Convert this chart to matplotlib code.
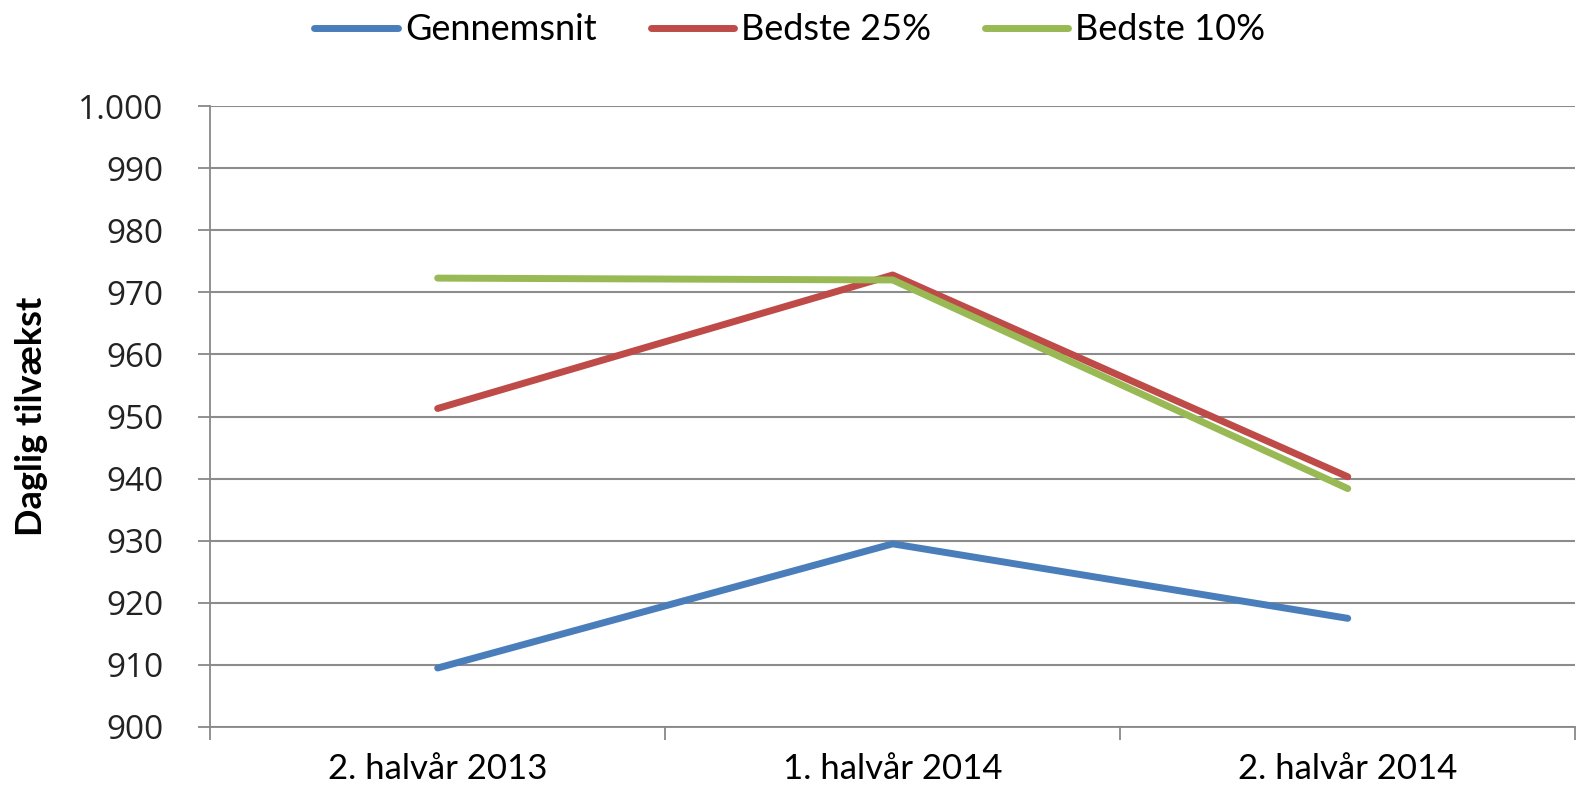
import matplotlib

matplotlib.use("Agg")
import matplotlib.pyplot as plt
from matplotlib.ticker import FuncFormatter, FixedLocator

categories = ["2. halvår 2013", "1. halvår 2014", "2. halvår 2014"]
gennemsnit = [909.5, 929.5, 917.5]
bedste_25 = [951.3, 972.8, 940.3]
bedste_10 = [972.3, 972.0, 938.4]

plt.rcParams["font.family"] = ["Lato", "DejaVu Sans"]

fig = plt.figure(figsize=(15.8, 7.98), dpi=100)
ax = fig.add_axes([0.133, 0.089, 0.864, 0.778])

x = range(len(categories))
ax.plot(x, gennemsnit, color="#4a7ebb", lw=5, solid_capstyle="round", label="Gennemsnit")
ax.plot(x, bedste_25, color="#be4b48", lw=5, solid_capstyle="round", label="Bedste 25%")
ax.plot(x, bedste_10, color="#98b954", lw=5, solid_capstyle="round", label="Bedste 10%")

ax.set_xlim(-0.5, len(categories) - 0.5)
ax.set_ylim(900, 1000)
ax.set_yticks(range(900, 1001, 10))
ax.yaxis.set_major_formatter(FuncFormatter(lambda v, p: f"{int(v):,}".replace(",", ".")))
ax.set_xticks(list(x))
ax.set_xticklabels(categories, fontsize=25)
ax.xaxis.set_minor_locator(FixedLocator([i - 0.5 for i in range(len(categories) + 1)]))
ax.tick_params(axis="x", which="major", length=0, pad=19)
ax.tick_params(axis="x", which="minor", length=9, color="#888888", width=1.3)
ax.tick_params(axis="y", length=8.5, color="#888888", width=1.3, pad=25)
for lab in ax.get_yticklabels():
    lab.set_color("#222222")
    lab.set_family("Open Sans")
    lab.set_fontsize(24)

ax.grid(axis="y", color="#8c8c8c", lw=1.5)
ax.set_axisbelow(True)
for side in ["top", "right"]:
    ax.spines[side].set_visible(False)
for side in ["left", "bottom"]:
    ax.spines[side].set_color("#888888")
    ax.spines[side].set_linewidth(1.3)

ax.set_ylabel("Daglig tilvækst", fontsize=26, fontweight="bold")
ax.yaxis.set_label_coords(-0.119, 0.5)

fig.legend(loc="upper center", bbox_to_anchor=(0.5, 1.024), ncol=3, frameon=False,
           fontsize=26, handlelength=2.3, handletextpad=0.2, columnspacing=1.5)

fig.savefig("out.png", dpi=100)
